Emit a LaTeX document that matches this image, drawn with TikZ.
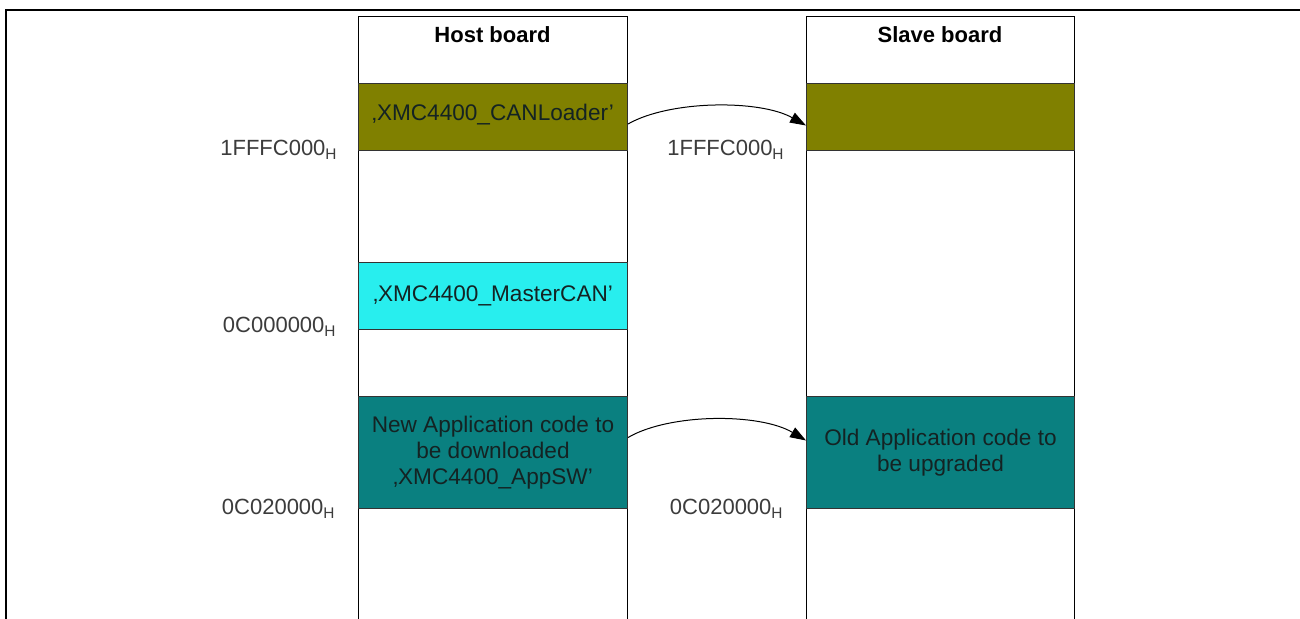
\documentclass[tikz,border=0pt]{standalone}
\usepackage{fontspec}
\setmainfont{Liberation Sans}
\usetikzlibrary{arrows.meta,calc}
\definecolor{olivebox}{RGB}{128,128,0}
\definecolor{cyanbox}{RGB}{40,238,238}
\definecolor{tealbox}{RGB}{10,128,128}
\definecolor{labelgray}{RGB}{60,60,60}
\definecolor{boxtext}{RGB}{20,35,35}
\begin{document}
\begin{tikzpicture}[x=0.5pt,y=-0.5pt,
  every node/.style={font=\fontsize{11}{12.75}\selectfont},
  column/.style={draw=black, line width=0.5pt, fill=white, anchor=north west, minimum height=320pt, inner sep=0pt},
  block/.style={draw=black!80, line width=0.5pt, anchor=north west, inner sep=0pt, text=boxtext, align=center, font=\fontsize{11.3}{12.9}\selectfont},
  addr/.style={anchor=base east, inner sep=0pt, text=labelgray},
  head/.style={anchor=base, inner sep=0pt, font=\fontsize{11}{13}\selectfont\bfseries},
  move/.style={-{Triangle[length=8pt,width=5.5pt]}, line width=0.5pt, black}
]
\clip (0,0) rectangle (1300,619);
\fill[white] (0,0) rectangle (1300,619);
\draw[line width=1pt] (6,625) -- (6,10) -- (1305,10);

% columns
\node[column, minimum width=134.5pt] (host) at (358,16) {};
\node[column, minimum width=134pt] (slave) at (806,16) {};
\node[head] (hostHead) at (492.5,43) {Host board};
\node[head] (slaveHead) at (940,43) {Slave board};

% blocks
\node[block, fill=olivebox, minimum width=134.5pt, minimum height=33.5pt] (hostLoader) at (358,83) {\raisebox{5pt}{‚XMC4400\_CANLoader’}};
\node[block, fill=cyanbox, minimum width=134.5pt, minimum height=33.5pt] (hostMaster) at (358,262) {\raisebox{-2.5pt}{‚XMC4400\_MasterCAN’}};
\node[block, fill=tealbox, minimum width=134.5pt, minimum height=56pt] (hostApp) at (358,396) {New Application code to\\be downloaded\\‚XMC4400\_AppSW’};
\node[block, fill=olivebox, minimum width=134pt, minimum height=33.5pt] (slaveLoader) at (806,83) {};
\node[block, fill=tealbox, minimum width=134pt, minimum height=56pt] (slaveApp) at (806,396) {Old Application code to\\be upgraded};

% arrows
\draw[move] ($(hostLoader.east)+(0,7)$) .. controls +(42,-24) and +(-46,-26) .. ($(slaveLoader.west)+(0,8.5)$);
\draw[move] ($(hostApp.east)+(0,-15)$) .. controls +(42,-24.5) and +(-46,-27.5) .. ($(slaveApp.west)+(0,-12)$);

% addresses
\node[addr] (aLoaderHost) at (338,156) {1FFFC000\textsubscript{H}};
\node[addr] (aLoaderSlave) at (785,156) {1FFFC000\textsubscript{H}};
\node[addr] (aMaster) at (337,333) {0C000000\textsubscript{H}};
\node[addr] (aAppHost) at (336,515) {0C020000\textsubscript{H}};
\node[addr] (aAppSlave) at (784,515) {0C020000\textsubscript{H}};
\end{tikzpicture}
\end{document}
